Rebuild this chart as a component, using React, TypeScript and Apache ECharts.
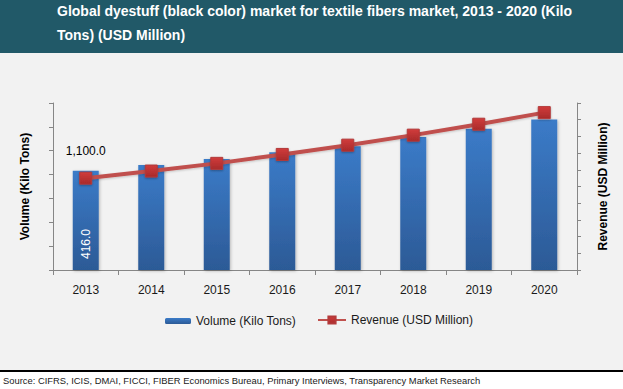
import React, { useEffect, useRef } from "react";
import * as echarts from "echarts";

const years = ["2013", "2014", "2015", "2016", "2017", "2018", "2019", "2020"];
const volume = [416, 440, 465, 494, 519, 558, 592, 631];
const revenue = [1100, 1185, 1277, 1384, 1495, 1615, 1746, 1885];

const titleLines = [
  "Global dyestuff (black color) market for textile fibers market, 2013 - 2020 (Kilo",
  "Tons) (USD Million)",
];
const sourceText =
  "Source: CIFRS, ICIS, DMAI, FICCI, FIBER Economics Bureau, Primary Interviews, Transparency Market Research";

const FONT = "'Liberation Sans', Arial, sans-serif";

const fmt = (v: number) =>
  v.toLocaleString("en-US", { minimumFractionDigits: 1, maximumFractionDigits: 1 });

export default function App() {
  const ref = useRef<HTMLDivElement>(null);
  useEffect(() => {
    if (!ref.current) return;
    const chart = echarts.init(ref.current, undefined, { renderer: "svg" });
    const option = {
      animation: false,
      backgroundColor: "#ffffff",
      textStyle: { fontFamily: FONT },
      title: {
        text: titleLines.join("\n"),
        left: 57,
        top: -1,
        padding: 0,
        textStyle: {
          color: "#ffffff",
          fontSize: 14,
          fontWeight: "bold",
          fontFamily: FONT,
          lineHeight: 24,
        },
        z: 10,
      },
      graphic: [
        { type: "rect", shape: { x: 0, y: 0, width: 623, height: 53 }, style: { fill: "#215968" }, z: -10, silent: true },
        { type: "rect", shape: { x: 0, y: 53, width: 623, height: 317 }, style: { fill: "#f2f2f2" }, z: -10, silent: true },
        { type: "rect", shape: { x: 0, y: 370, width: 623, height: 2 }, style: { fill: "#000000" }, z: -10, silent: true },
        {
          type: "text",
          x: 3,
          y: 380,
          style: {
            text: sourceText,
            fill: "#1a1a1a",
            fontSize: 9.4,
            fontFamily: FONT,
            verticalAlign: "middle",
          },
          silent: true,
        },
      ],
      legend: [
        {
          data: ["Volume (Kilo Tons)"],
          left: 165,
          top: 315,
          padding: 0,
          itemWidth: 26,
          itemHeight: 6,
          textStyle: { color: "#1a1a1a", fontSize: 12, fontFamily: FONT },
        },
        {
          data: ["Revenue (USD Million)"],
          left: 317,
          top: 314,
          padding: 0,
          itemWidth: 28,
          itemHeight: 9,
          textStyle: { color: "#1a1a1a", fontSize: 12, fontFamily: FONT },
        },
      ],
      grid: { left: 53, right: 46, top: 103, bottom: 119 },
      xAxis: {
        type: "category",
        data: years,
        boundaryGap: true,
        axisLine: { lineStyle: { color: "#868686", width: 1 } },
        axisTick: { show: true, length: 5, lineStyle: { color: "#868686" } },
        axisLabel: { color: "#1a1a1a", fontSize: 12, margin: 14, fontFamily: FONT },
      },
      yAxis: [
        {
          type: "value",
          min: 0,
          max: 700,
          interval: 100,
          name: "Volume (Kilo Tons)",
          nameLocation: "middle",
          nameRotate: 90,
          nameGap: 22,
          nameTextStyle: { color: "#000000", fontSize: 12, fontWeight: "bold", fontFamily: FONT },
          axisLine: { show: true, lineStyle: { color: "#868686" } },
          axisTick: { show: true, length: 4, lineStyle: { color: "#868686" } },
          axisLabel: { show: false },
          splitLine: { show: false },
        },
        {
          type: "value",
          min: 0,
          max: 2000,
          interval: 200,
          position: "right",
          name: "Revenue (USD Million)",
          nameLocation: "middle",
          nameRotate: 90,
          nameGap: 20,
          nameTextStyle: { color: "#000000", fontSize: 12, fontWeight: "bold", fontFamily: FONT },
          axisLine: { show: true, lineStyle: { color: "#868686" } },
          axisTick: { show: true, length: 4, lineStyle: { color: "#868686" } },
          axisLabel: { show: false },
          splitLine: { show: false },
        },
      ],
      series: [
        {
          name: "Volume (Kilo Tons)",
          type: "bar",
          yAxisIndex: 0,
          barWidth: 26,
          data: volume.map((v, i) =>
            i === 0
              ? {
                  value: v,
                  label: {
                    show: true,
                    position: "insideBottom",
                    distance: 11,
                    rotate: 90,
                    align: "left",
                    verticalAlign: "middle",
                    color: "#ffffff",
                    fontSize: 12,
                    fontFamily: FONT,
                    formatter: (p: any) => fmt(p.value),
                  },
                }
              : v
          ),
          itemStyle: {
            color: new echarts.graphic.LinearGradient(0, 0, 0, 1, [
              { offset: 0, color: "#3b7bc8" },
              { offset: 1, color: "#2c5a96" },
            ]),
            shadowColor: "rgba(0,0,0,0.25)",
            shadowBlur: 3,
            shadowOffsetX: 1,
            shadowOffsetY: 1,
          },
        },
        {
          name: "Revenue (USD Million)",
          type: "line",
          yAxisIndex: 1,
          symbol: "rect",
          symbolSize: 12,
          data: revenue.map((v, i) =>
            i === 0
              ? {
                  value: v,
                  label: {
                    show: true,
                    position: "top",
                    distance: 15,
                    color: "#000000",
                    fontSize: 12,
                    fontFamily: FONT,
                    formatter: (p: any) => fmt(p.value),
                  },
                }
              : v
          ),
          lineStyle: {
            color: "#c0504d",
            width: 4,
            shadowColor: "rgba(0,0,0,0.2)",
            shadowBlur: 2,
            shadowOffsetY: 1,
          },
          itemStyle: {
            color: new echarts.graphic.LinearGradient(0, 0, 0, 1, [
              { offset: 0, color: "#d13c3c" },
              { offset: 1, color: "#a82a2a" },
            ]),
            borderColor: "#b33a3a",
            borderWidth: 1,
            shadowColor: "rgba(0,0,0,0.3)",
            shadowBlur: 2,
            shadowOffsetY: 1,
          },
          z: 5,
        },
      ],
    };
    chart.setOption(option as any);
    return () => chart.dispose();
  }, []);
  return (
    <div
      ref={ref}
      style={{ position: "absolute", left: 0, top: 0, width: 623, height: 389 }}
    />
  );
}
